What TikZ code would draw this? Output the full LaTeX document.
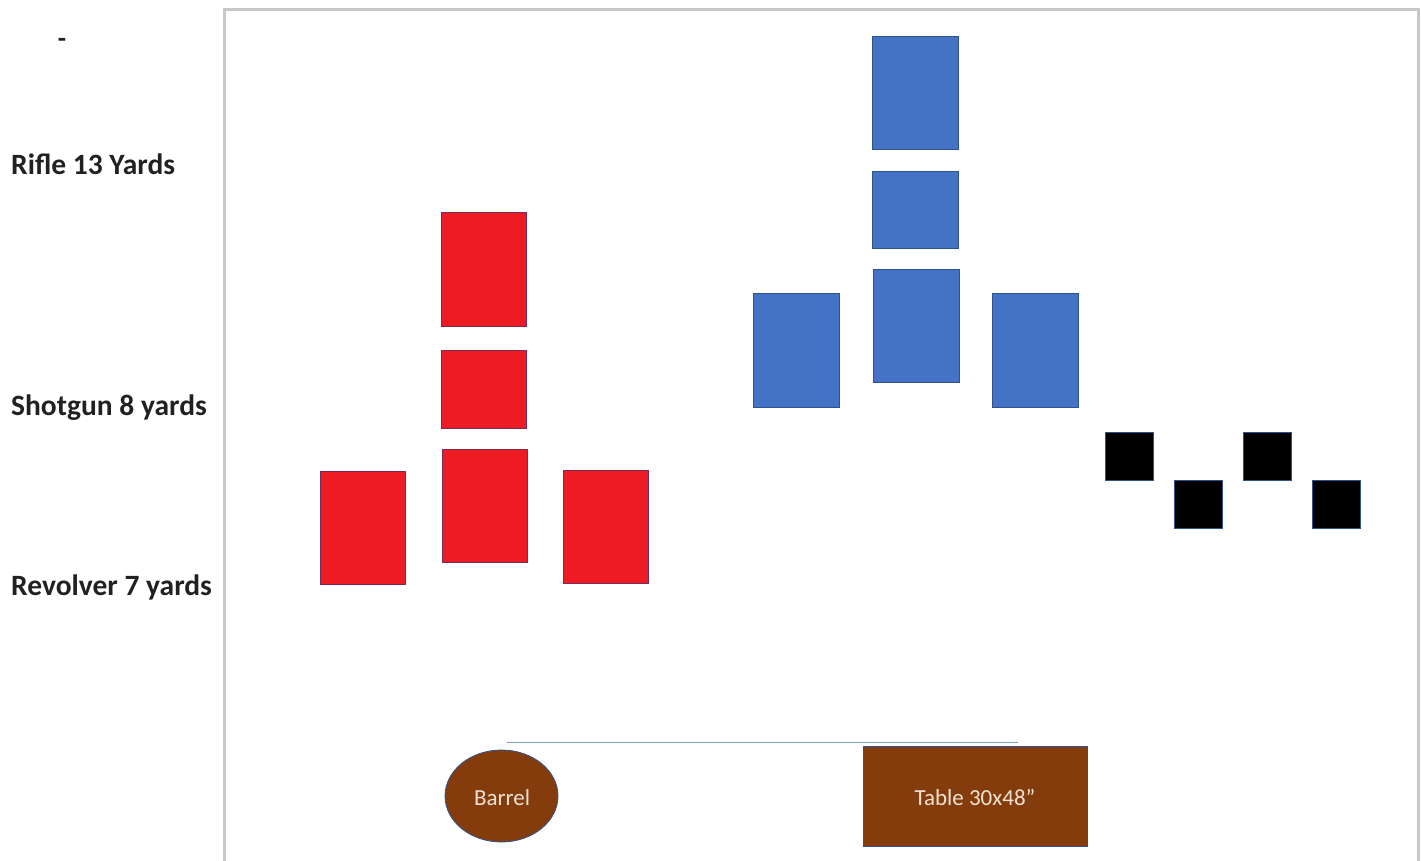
\documentclass[tikz,border=0pt]{standalone}
\usepackage{fontspec}
\setmainfont{Carlito}
\usetikzlibrary{shapes.geometric}
\definecolor{redfill}{HTML}{ED1C24}
\definecolor{redline}{HTML}{7A2A5A}
\definecolor{bluefill}{HTML}{4472C4}
\definecolor{blueline}{HTML}{2F528F}
\definecolor{brownfill}{HTML}{843C0C}
\definecolor{creamtext}{HTML}{F0E2D2}
\definecolor{framegray}{HTML}{C8C8C8}
\definecolor{linkblue}{HTML}{7F9CCB}
\tikzset{
  box/.style={rectangle, inner sep=0pt, outer sep=0pt, line width=0.8pt},
  redbox/.style={box, fill=redfill, draw=redline, minimum width=85pt},
  bluebox/.style={box, fill=bluefill, draw=blueline, minimum width=86pt},
  blackbox/.style={box, fill=black, draw=blueline, minimum width=48pt, minimum height=48pt},
  rowlabel/.style={anchor=base west, inner sep=0pt, font=\fontsize{29.5}{32}\selectfont\bfseries, text=black!87},
  propfill/.style={fill=brownfill, draw=blueline, line width=0.8pt, inner sep=0pt},
  proptext/.style={anchor=base, inner sep=0pt, text=creamtext, font=\fontsize{23}{26}\selectfont}
}
\begin{document}
\begin{tikzpicture}[x=1pt, y=-1pt]
\useasboundingbox (0,0) rectangle (1421,861);
% frame
\draw[framegray, line width=3pt] (224,861) -- (224,9.5) -- (1418.5,9.5) -- (1418.5,861);
% dash
\node[inner sep=0pt, anchor=base, font=\fontsize{27}{30}\selectfont\bfseries, text=black!87] (dash) at (62,48) {-};
% labels
\node[rowlabel] (rifle) at (11,175) {Rifle 13 Yards};
\node[rowlabel] (shotgun) at (11,415) {Shotgun 8 yards};
\node[rowlabel] (revolver) at (11,595) {Revolver 7 yards};
% red targets
\node[redbox, minimum height=114pt] (r1) at (483.5,269) {};
\node[redbox, minimum height=78pt] (r2) at (483.5,389) {};
\node[redbox, minimum height=113pt] (r3) at (484.5,505.5) {};
\node[redbox, minimum height=113pt] (r4) at (362.5,527.5) {};
\node[redbox, minimum height=113pt] (r5) at (605.5,526.5) {};
% blue targets
\node[bluebox, minimum height=113pt] (b1) at (915,92.5) {};
\node[bluebox, minimum height=77pt] (b2) at (915,209.5) {};
\node[bluebox, minimum height=113pt] (b3) at (916,325.5) {};
\node[bluebox, minimum height=114pt] (b4) at (796,350) {};
\node[bluebox, minimum height=114pt] (b5) at (1035,350) {};
% black targets
\node[blackbox] (k1) at (1129.5,456.5) {};
\node[blackbox] (k2) at (1198.5,504) {};
\node[blackbox] (k3) at (1267,456.5) {};
\node[blackbox] (k4) at (1336,504) {};
% fault line
\coordinate (lineL) at (507,742.5);
\coordinate (lineR) at (1018,742.5);
\draw[linkblue, line width=1.3pt] (lineL) -- (lineR);
% props
\node[propfill, ellipse, minimum width=113pt, minimum height=92pt] (barrel) at (501.5,796) {};
\node[propfill, rectangle, minimum width=224pt, minimum height=100pt] (table) at (975,796) {};
\node[proptext] (barreltxt) at (502,805) {Barrel};
\node[proptext] (tabletxt) at (975,805) {Table 30x48”};
\end{tikzpicture}
\end{document}
